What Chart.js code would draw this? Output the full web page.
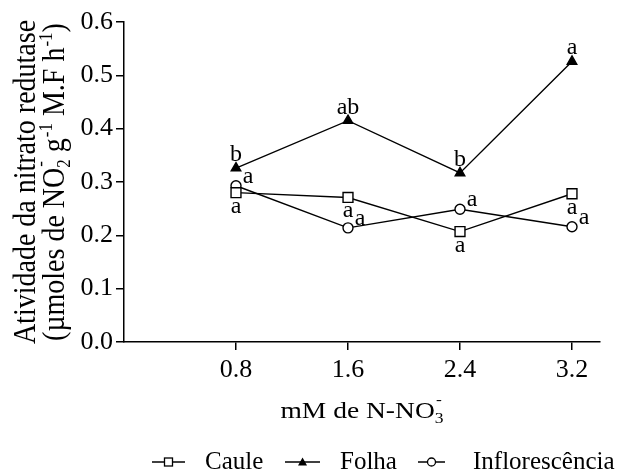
<!DOCTYPE html>
<html><head><meta charset="utf-8">
<script src="https://cdn.jsdelivr.net/npm/chart.js@4/dist/chart.umd.min.js"></script>
<style>html,body{margin:0;padding:0;background:#fff}</style>
</head><body>
<canvas id="c" width="624" height="472"></canvas>
<script>
// ---- data ----
const xValues = [0.8, 1.6, 2.4, 3.2];
const xTickLabels = ['0.8', '1.6', '2.4', '3.2'];
const seriesNames = ['Caule', 'Folha', 'Inflorescência'];
const caule = [0.280, 0.271, 0.207, 0.278];
const folha = [0.326, 0.415, 0.317, 0.526];
const inflor = [0.293, 0.214, 0.249, 0.216];
const cauleLetters = ['a', 'a', 'a', 'a'];
const folhaLetters = ['b', 'ab', 'b', 'a'];
const inflorLetters = ['a', 'a', 'a', 'a'];
const yTitleLine1 = 'Atividade da nitrato redutase';
const yTitleLine2 = [['(µmoles de NO'], ['2', '-', 'stack'], [' g'], ['-1', 'sup'], [' M.F h'], ['-1', 'sup'], [')']];
const xTitle = [['mM de N-NO'], ['3', '-', 'stack']];

const FONT = '"Liberation Serif", "Times New Roman", serif';

function pts(vals) { return xValues.map((x, i) => ({ x: x, y: vals[i] })); }

function richWidth(ctx, parts, fs) {
  let w = 0;
  for (const p of parts) {
    if (p.length === 1) { ctx.font = fs + 'px ' + FONT; w += ctx.measureText(p[0]).width; }
    else {
      ctx.font = Math.round(fs * 0.62) + 'px ' + FONT;
      if (p[1] === 'sup') w += ctx.measureText(p[0]).width + 1;
      else w += Math.max(ctx.measureText(p[0]).width, ctx.measureText(p[1]).width);
    }
  }
  return w;
}
// (cx, cy) = centre of the text baseline; sx = horizontal stretch on screen
function drawRich(ctx, parts, cx, cy, rot, fs, sx) {
  ctx.save();
  ctx.translate(cx, cy);
  ctx.scale(sx, 1);
  ctx.rotate(rot);
  const tw = richWidth(ctx, parts, fs);
  let x = -tw / 2;
  ctx.textAlign = 'left';
  ctx.textBaseline = 'alphabetic';
  ctx.fillStyle = '#000';
  for (const p of parts) {
    if (p.length === 1) {
      ctx.font = fs + 'px ' + FONT;
      ctx.fillText(p[0], x, 0);
      x += ctx.measureText(p[0]).width;
    } else {
      const sfs = Math.round(fs * 0.62);
      ctx.font = sfs + 'px ' + FONT;
      if (p[1] === 'sup') {
        ctx.fillText(p[0], x + 1, -fs * 0.38);
        x += ctx.measureText(p[0]).width + 1;
      } else {
        ctx.fillText(p[0], x, fs * 0.2);
        ctx.fillText(p[1], x + 1, -fs * 0.6);
        x += Math.max(ctx.measureText(p[0]).width, ctx.measureText(p[1]).width);
      }
    }
  }
  ctx.restore();
}

function drawMarker(ctx, style, x, y, r) {
  ctx.save();
  ctx.lineWidth = 1.3;
  ctx.strokeStyle = '#000';
  if (style === 'rect') {
    ctx.fillStyle = '#fff';
    ctx.fillRect(x - r, y - r, 2 * r, 2 * r);
    ctx.strokeRect(x - r, y - r, 2 * r, 2 * r);
  } else if (style === 'triangle') {
    ctx.fillStyle = '#000';
    ctx.beginPath();
    ctx.moveTo(x, y - r);
    ctx.lineTo(x + r, y + r * 0.75);
    ctx.lineTo(x - r, y + r * 0.75);
    ctx.closePath();
    ctx.fill();
  } else {
    ctx.fillStyle = '#fff';
    ctx.beginPath();
    ctx.arc(x, y, r, 0, Math.PI * 2);
    ctx.fill();
    ctx.stroke();
  }
  ctx.restore();
}

const decor = {
  id: 'decor',
  afterDatasetsDraw(chart) {
    const ctx = chart.ctx;
    const xs = chart.scales.x, ys = chart.scales.y;
    const ca = chart.chartArea;
    ctx.save();
    ctx.font = '24px ' + FONT;
    ctx.fillStyle = '#000';
    ctx.textAlign = 'center';
    ctx.textBaseline = 'alphabetic';
    const sets = [
      { vals: folha, letters: folhaLetters, dx: 0, dy: -7 },
      { vals: caule, letters: cauleLetters, dx: 0, dy: 20 },
      { vals: inflor, letters: inflorLetters, dx: 12, dy: -3 }
    ];
    for (const s of sets) {
      s.vals.forEach((v, i) => {
        const px = xs.getPixelForValue(xValues[i]);
        const py = ys.getPixelForValue(v);
        ctx.fillText(s.letters[i], px + s.dx, py + s.dy);
      });
    }
    ctx.restore();

    // axis titles
    const midY = (ca.top + ca.bottom) / 2;
    drawRich(ctx, [[yTitleLine1]], 35, midY, -Math.PI / 2, 28, 1.1);
    drawRich(ctx, yTitleLine2, 64, midY, -Math.PI / 2, 28, 1.1);
    drawRich(ctx, xTitle, (ca.left + ca.right) / 2, 418, 0, 23.5, 1.17);

    // legend
    const items = [
      { style: 'rect', x0: 152, x1: 185, r: 4, tx: 205 },
      { style: 'triangle', x0: 285, x1: 320, r: 4.5, tx: 340 },
      { style: 'circle', x0: 418, x1: 445, r: 4, tx: 473 }
    ];
    const ly = 462;
    ctx.save();
    items.forEach((it, i) => {
      ctx.strokeStyle = '#000';
      ctx.lineWidth = 1.5;
      ctx.beginPath();
      ctx.moveTo(it.x0, ly);
      ctx.lineTo(it.x1, ly);
      ctx.stroke();
      drawMarker(ctx, it.style, (it.x0 + it.x1) / 2, ly, it.r);
      ctx.font = '25px ' + FONT;
      ctx.fillStyle = '#000';
      ctx.textAlign = 'left';
      ctx.textBaseline = 'alphabetic';
      ctx.fillText(seriesNames[i], it.tx, 469);
    });
    ctx.restore();
  }
};

const common = { borderColor: '#000', borderWidth: 1.4, tension: 0, pointBorderColor: '#000', pointBorderWidth: 1.4, fill: false };

new Chart(document.getElementById('c'), {
  type: 'line',
  data: {
    datasets: [
      Object.assign({ label: seriesNames[0], data: pts(caule), pointStyle: 'rect', pointRadius: 7, pointBackgroundColor: '#fff' }, common),
      Object.assign({ label: seriesNames[1], data: pts(folha), pointStyle: 'triangle', pointRadius: 5.5, pointBackgroundColor: '#000' }, common),
      Object.assign({ label: seriesNames[2], data: pts(inflor), pointStyle: 'circle', pointRadius: 5, pointBackgroundColor: '#fff' }, common)
    ]
  },
  options: {
    responsive: false,
    animation: false,
    devicePixelRatio: 1,
    layout: { padding: { top: 22, right: 24, bottom: 0, left: 0 } },
    plugins: { legend: { display: false }, tooltip: { enabled: false } },
    scales: {
      x: {
        type: 'linear', min: 0, max: 3.4,
        afterBuildTicks: s => { s.ticks = xValues.map(v => ({ value: v })); },
        afterFit: s => { s.height = 130; },
        ticks: {
          callback: v => { const i = xValues.indexOf(v); return i >= 0 ? xTickLabels[i] : ''; },
          font: { family: FONT, size: 26 }, color: '#000', padding: 5, maxRotation: 0
        },
        grid: { drawOnChartArea: false, drawTicks: true, tickLength: 8, color: '#000', lineWidth: 1.5 },
        border: { color: '#000', width: 1.5 }
      },
      y: {
        min: 0, max: 0.6,
        afterFit: s => { s.width = 124; },
        ticks: {
          stepSize: 0.05,
          callback: (v, i) => (i % 2 === 0 ? Number(v).toFixed(1) : ''),
          font: { family: FONT, size: 26 }, color: '#000', padding: 3
        },
        grid: { drawOnChartArea: false, drawTicks: true, tickLength: 8, color: '#000', lineWidth: 1.5 },
        border: { color: '#000', width: 1.5 }
      }
    }
  },
  plugins: [decor]
});
</script>
</body></html>
